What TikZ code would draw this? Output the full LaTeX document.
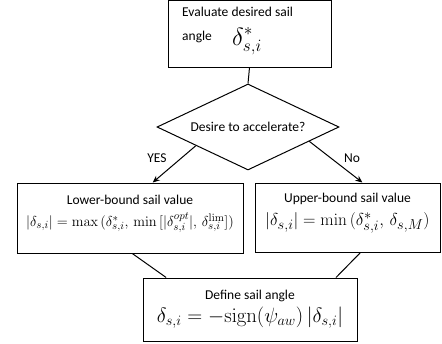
\documentclass[tikz,border=0pt]{standalone}
\usepackage[no-math]{fontspec}
\setmainfont{Carlito}
\usetikzlibrary{positioning,shapes.geometric,arrows.meta,calc}

\begin{document}
\begin{tikzpicture}[x=1pt,y=-1pt,
    box/.style={draw, line width=1pt, inner sep=0pt},
    txt/.style={inner sep=0pt, font=\fontsize{13.5}{16}\selectfont},
    eqsmall/.style={inner sep=0pt, font=\fontsize{15}{18}\selectfont},
    eqbig/.style={inner sep=0pt, font=\fontsize{19}{22}\selectfont},
    conn/.style={line width=1pt},
    arr/.style={line width=1pt, -{Stealth[length=7pt,width=6pt]}}]
  \useasboundingbox (0,0) rectangle (442,343);

  %%top box
  \node[box, minimum width=163pt, minimum height=67pt] (eval) at (249.5,33.5) {};
  \node[txt, anchor=base west] (evaltxt) at (182,16) {Evaluate desired sail};
  \node[txt, anchor=base west] (angtxt) at (182,40) {angle};
  \node[inner sep=0pt, anchor=base west, font=\fontsize{25}{28}\selectfont]
    (evaleq) at (232,45) {$\delta^*_{s,i}$};

  %%decision
  \node[box, diamond, shape aspect=2, minimum width=182pt, minimum height=86pt]
    (dec) at (248,127) {};
  \node[txt] (dectxt) at (dec.center) {Desire to accelerate?};
  \draw[conn] (eval.south) -- (dec.north);

  %%lower bound
  \node[box, minimum width=226pt, minimum height=70pt] (low) at (130,218) {};
  \node[txt, below=12pt of low.north] (lowtxt) {Lower-bound sail value};
  \node[eqsmall, below=8pt of lowtxt] (loweq)
    {$|\delta_{s,i}|=\max\big(\delta^*_{s,i},\,\min\big[\big|\delta^{opt}_{s,i}\big|,\,\delta^{\mathrm{lim}}_{s,i}\big]\big)$};

  %%upper bound
  \node[box, minimum width=185pt, minimum height=69pt] (upp) at (347.5,217.5) {};
  \node[txt, below=10pt of upp.north] (upptxt) {Upper-bound sail value};
  \node[eqbig, below=8pt of upptxt] (uppeq)
    {$|\delta_{s,i}|=\min\big(\delta^*_{s,i},\,\delta_{s,M}\big)$};

  %%define
  \node[box, minimum width=214pt, minimum height=63pt] (def) at (250,309.5) {};
  \node[txt, below=12pt of def.north] (deftxt) {Define sail angle};
  \node[eqbig, font=\fontsize{20.5}{24}\selectfont, below=5pt of deftxt] (defeq)
    {$\delta_{s,i}=-\mathrm{sign}\big(\psi_{aw}\big)\,|\delta_{s,i}|$};

  %%branches
  \coordinate (yesout) at ($(dec.west)!0.43!(dec.south)$);
  \coordinate (noout) at ($(dec.east)!0.33!(dec.south)$);
  \coordinate (yesin) at ($(low.north west)!0.6!(low.north east)$);
  \coordinate (noin) at ($(upp.north west)!0.58!(upp.north east)$);
  \draw[arr] (yesout) -- (yesin);
  \draw[arr] (noout) -- (noin);
  \node[txt] (yes) at (157,158) {YES};
  \node[txt] (no) at (352,158) {No};

  %%merge
  \coordinate (lowout) at ($(low.south west)!0.51!(low.south east)$);
  \coordinate (uppout) at ($(upp.south west)!0.57!(upp.south east)$);
  \coordinate (definl) at ($(def.north west)!0.11!(def.north east)$);
  \coordinate (definr) at ($(def.north west)!0.9!(def.north east)$);
  \draw[conn] (lowout) -- (definl);
  \draw[conn] (uppout) -- (definr);
\end{tikzpicture}
\end{document}
